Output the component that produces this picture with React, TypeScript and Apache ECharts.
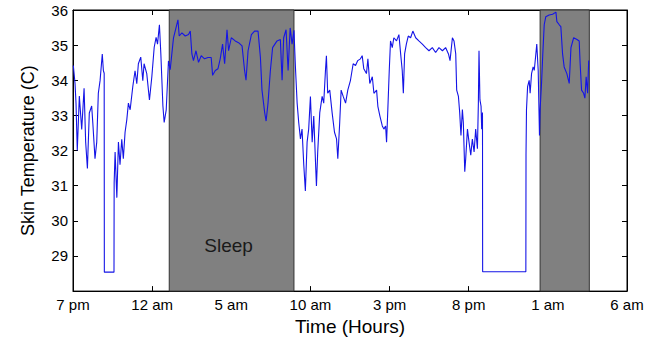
import React, { useEffect, useRef } from "react";
import * as echarts from "echarts";

// Time in hours after 7 pm
const timeHours: number[] = [
  0.02, 0.13, 0.19, 0.27, 0.4, 0.55, 0.7, 0.8, 0.91, 1.03, 1.18, 1.25, 1.39, 1.5, 1.6, 1.71, 1.85, 1.92, 1.97, 1.98,
  2.59, 2.6, 2.66, 2.77, 2.87, 2.97, 3.08, 3.18, 3.29, 3.4, 3.5, 3.61, 3.78, 3.92, 4.03, 4.13, 4.28, 4.41, 4.49, 4.66,
  4.83, 4.98, 5.13, 5.25, 5.34, 5.46, 5.55, 5.68, 5.76, 5.89, 6.03, 6.14, 6.35, 6.63, 6.71, 6.88, 7.09, 7.3, 7.41, 7.51,
  7.61, 7.77, 7.93, 8.1, 8.31, 8.53, 8.73, 8.82, 8.99, 9.16, 9.3, 9.45, 9.58, 9.73, 9.83, 10.0, 10.25, 10.46, 10.68, 10.84,
  10.93, 11.06, 11.27, 11.47, 11.69, 11.84, 11.94, 12.11, 12.2, 12.32, 12.47, 12.61, 12.89, 13.1, 13.21, 13.31, 13.46, 13.59, 13.72, 13.84,
  13.96, 14.05, 14.16, 14.26, 14.37, 14.47, 14.58, 14.68, 14.79, 14.89, 15.0, 15.11, 15.21, 15.32, 15.38, 15.46, 15.59, 15.74, 15.84, 15.95,
  16.01, 16.09, 16.22, 16.37, 16.52, 16.65, 16.73, 16.85, 16.94, 17.07, 17.22, 17.36, 17.53, 17.7, 17.85, 17.99, 18.16, 18.27, 18.37, 18.54,
  18.63, 18.75, 18.91, 19.01, 19.18, 19.26, 19.39, 19.54, 19.64, 19.75, 19.81, 19.89, 19.98, 20.06, 20.17, 20.27, 20.44, 20.59, 20.7, 20.8,
  20.87, 20.95, 21.06, 21.18, 21.33, 21.47, 21.65, 21.85, 22.07, 22.28, 22.49, 22.7, 22.91, 23.12, 23.34, 23.54, 23.72, 23.82, 23.97, 24.07,
  24.18, 24.24, 24.35, 24.43, 24.51, 24.6, 24.66, 24.75, 24.81, 24.92, 25.02, 25.13, 25.23, 25.34, 25.44, 25.55, 25.61, 25.65, 25.71, 25.78,
  25.82, 25.87, 25.88, 28.61, 28.62, 28.65, 28.72, 28.82, 28.88, 28.97, 29.07, 29.14, 29.22, 29.3, 29.39, 29.47, 29.51, 29.6, 29.68, 29.77,
  29.87, 30.08, 30.3, 30.51, 30.57, 30.72, 30.82, 30.93, 31.03, 31.2, 31.35, 31.46, 31.63, 31.84, 31.98, 32.04, 32.13, 32.26, 32.34, 32.42,
  32.51, 32.58,
];

// Skin temperature (C)
const skinTemp: number[] = [
  34.42, 33.9, 33.35, 32.0, 33.55, 32.6, 33.77, 32.24, 31.49, 33.07, 33.27, 32.8, 31.77, 32.24, 33.63, 33.99, 34.75, 34.27, 34.2, 28.54,
  28.54, 31.08, 31.96, 30.66, 32.24, 31.6, 32.32, 31.77, 32.52, 32.88, 33.35, 33.16, 33.83, 34.27, 33.9, 34.47, 34.66, 33.99, 34.47, 34.19,
  33.44, 34.1, 34.94, 35.22, 35.03, 35.58, 34.75, 33.27, 32.8, 33.16, 34.55, 34.3, 35.21, 35.72, 35.26, 35.35, 35.26, 35.3, 35.4, 34.75,
  34.56, 34.84, 34.51, 34.7, 34.61, 34.65, 34.65, 34.14, 34.28, 34.33, 34.61, 35.03, 34.47, 35.44, 34.84, 35.21, 35.12, 35.07, 34.98, 34.28,
  34.0, 34.84, 35.3, 35.4, 35.4, 34.65, 33.72, 33.08, 32.84, 33.35, 34.28, 34.93, 35.12, 35.16, 34.0, 35.21, 35.44, 34.28, 35.49, 35.03,
  35.42, 34.4, 33.35, 32.8, 32.33, 32.61, 31.59, 30.85, 32.24, 32.61, 33.54, 32.24, 32.98, 31.68, 30.99, 31.96, 33.08, 33.54, 33.35, 34.28,
  34.7, 33.63, 33.72, 33.08, 32.52, 32.33, 31.77, 32.8, 33.72, 33.54, 33.35, 33.72, 34.0, 34.47, 34.42, 34.56, 34.61, 34.7, 34.33, 34.19,
  34.61, 33.91, 34.1, 33.63, 33.72, 33.26, 32.98, 32.7, 32.61, 32.7, 32.24, 33.17, 34.28, 35.12, 34.93, 35.21, 35.12, 35.3, 34.75, 34.28,
  33.63, 34.75, 35.03, 35.26, 35.21, 35.4, 35.21, 35.12, 35.03, 34.93, 34.84, 34.93, 34.79, 34.93, 34.84, 34.93, 34.75, 34.56, 35.21, 35.12,
  34.75, 33.72, 33.54, 33.08, 32.43, 33.17, 32.8, 31.4, 31.77, 32.61, 32.24, 31.87, 32.33, 31.96, 32.61, 32.05, 33.35, 34.84, 33.44, 33.26,
  32.61, 33.08, 28.55, 28.55, 31.87, 33.17, 33.82, 34.0, 33.63, 34.19, 34.38, 34.28, 34.65, 35.03, 34.28, 32.43, 33.17, 33.91, 34.75, 35.58,
  35.81, 35.86, 35.88, 35.94, 35.67, 35.58, 35.53, 34.75, 34.38, 34.19, 33.91, 34.93, 35.21, 35.16, 35.12, 34.47, 33.72, 33.63, 33.49, 34.1,
  33.63, 34.56,
];

const sleepStart: number[] = [6.08, 29.51];
const sleepEnd: number[] = [13.96, 32.62];
const sleepLabels: string[] = ["Sleep", ""];

const xTickLabels: string[] = ["7 pm", "12 am", "5 am", "10 am", "3 pm", "8 pm", "1 am", "6 am"];

const FONT = "Liberation Sans, Arial, sans-serif";

export default function App() {
  const ref = useRef<HTMLDivElement>(null);

  useEffect(() => {
    if (!ref.current) return;
    const chart = echarts.init(ref.current, undefined, { renderer: "svg" });
    const lineData = timeHours.map((h, i) => [h, skinTemp[i]]);
    const areas = sleepStart.map((s, i) => [
      {
        xAxis: s,
        label: {
          show: sleepLabels[i] !== "",
          formatter: sleepLabels[i],
          position: "insideBottom",
          distance: 37,
          fontSize: 19,
          fontFamily: FONT,
          color: "#1a1a1a",
          offset: [-3, 0],
        },
      },
      { xAxis: sleepEnd[i] },
    ]);

    const tick = { show: true, inside: true, length: 5, lineStyle: { color: "#000", width: 1 } };
    const axisLine = { show: true, onZero: false, lineStyle: { color: "#000", width: 1 } };

    chart.setOption({
      animation: false,
      grid: {
        left: 73,
        right: 26,
        top: 10,
        bottom: 45,
        show: true,
        borderColor: "#000",
        borderWidth: 1,
        backgroundColor: "#fff",
      },
      xAxis: [
        {
          type: "value",
          position: "bottom",
          min: 0,
          max: 35,
          interval: 5,
          axisLine,
          axisTick: tick,
          splitLine: { show: false },
          axisLabel: {
            formatter: (v: number) => xTickLabels[Math.round(v / 5)] ?? "",
            fontSize: 15,
            fontFamily: FONT,
            color: "#000",
            margin: 6,
          },
          name: "Time (Hours)",
          nameLocation: "middle",
          nameGap: 24,
          nameTextStyle: { fontSize: 19, fontFamily: FONT, color: "#000" },
        },
        {
          type: "value",
          position: "top",
          min: 0,
          max: 35,
          interval: 5,
          axisLine,
          axisTick: tick,
          splitLine: { show: false },
          axisLabel: { show: false },
        },
      ],
      yAxis: [
        {
          type: "value",
          position: "left",
          min: 28,
          max: 36,
          interval: 1,
          axisLine,
          axisTick: tick,
          splitLine: { show: false },
          axisLabel: {
            formatter: (v: number) => (v === 28 ? "" : String(v)),
            fontSize: 15,
            fontFamily: FONT,
            color: "#000",
            margin: 5,
          },
          name: "Skin Temperature (C)",
          nameLocation: "middle",
          nameRotate: 90,
          nameGap: 36,
          nameTextStyle: { fontSize: 18, fontFamily: FONT, color: "#000" },
        },
        {
          type: "value",
          position: "right",
          min: 28,
          max: 36,
          interval: 1,
          axisLine,
          axisTick: tick,
          splitLine: { show: false },
          axisLabel: { show: false },
        },
      ],
      series: [
        {
          type: "line",
          name: "sleep",
          data: [],
          z: 1,
          silent: true,
          markArea: {
            silent: true,
            itemStyle: { color: "#808080", borderColor: "#333", borderWidth: 1 },
            data: areas,
          },
        },
        {
          type: "line",
          name: "skin",
          data: lineData,
          z: 3,
          showSymbol: false,
          symbol: "none",
          lineStyle: { color: "#1414e6", width: 1.1 },
        },
      ],
    });
    return () => chart.dispose();
  }, []);

  return <div ref={ref} style={{ width: 653, height: 341, position: "absolute", left: 0, top: 0 }} />;
}
